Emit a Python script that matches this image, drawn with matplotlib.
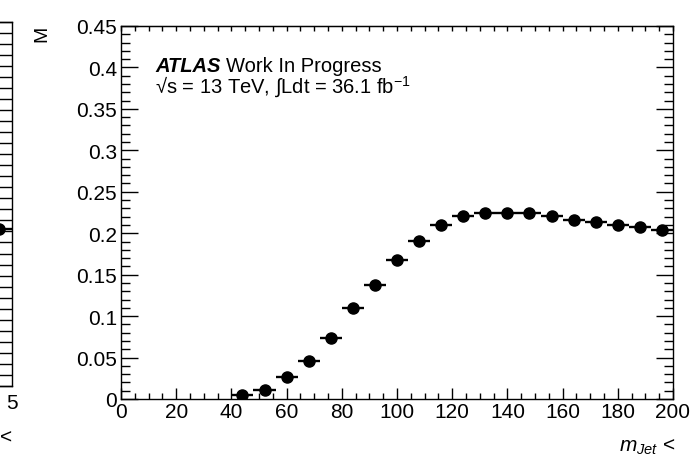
import matplotlib
matplotlib.use('Agg')
import matplotlib.pyplot as plt
from matplotlib.ticker import MultipleLocator, FuncFormatter
import numpy as np

plt.rcParams['font.family'] = ['Liberation Sans', 'DejaVu Sans']
plt.rcParams['mathtext.fontset'] = 'custom'
plt.rcParams['mathtext.rm'] = 'Liberation Sans'
plt.rcParams['mathtext.it'] = 'Liberation Sans:italic'
plt.rcParams['mathtext.bf'] = 'Liberation Sans:bold'
plt.rcParams['mathtext.sf'] = 'Liberation Sans'

# ---- data ----
mjet_bin_centers = [44, 52, 60, 68, 76, 84, 92, 100, 108, 116,
                    124, 132, 140, 148, 156, 164, 172, 180, 188, 196]
mjet_bin_half_width = 4
efficiency = [0.005, 0.011, 0.026, 0.046, 0.074, 0.110, 0.138, 0.168, 0.191, 0.210,
              0.221, 0.225, 0.224, 0.224, 0.221, 0.216, 0.213, 0.210, 0.207, 0.204]

# neighbouring (cut-off) panel on the left
left_panel_x = [4.15]
left_panel_y = [0.142]
left_panel_xerr = 0.85

W, H = 692, 460
fig = plt.figure(figsize=(W / 100, H / 100), dpi=100)
fig.patch.set_facecolor('white')


def px(l, t, r, b):
    return [l / W, 1 - b / H, (r - l) / W, (b - t) / H]


FS = 15
TFS = 14.5

# ---------------- main panel ----------------
ax = fig.add_axes(px(121, 27, 673, 400))
ax.errorbar(mjet_bin_centers, efficiency, xerr=mjet_bin_half_width, fmt='o',
            color='black', ms=8, lw=1.7, capsize=0, zorder=3)
ax.set_xlim(0, 200)
ax.set_ylim(0, 0.45)
ax.xaxis.set_major_locator(MultipleLocator(20))
ax.xaxis.set_minor_locator(MultipleLocator(5))
ax.yaxis.set_major_locator(MultipleLocator(0.05))
ax.yaxis.set_minor_locator(MultipleLocator(0.01))
ax.yaxis.set_major_formatter(FuncFormatter(lambda v, p: ('%g' % round(v, 3))))
ax.xaxis.set_major_formatter(FuncFormatter(lambda v, p: ('%d' % round(v))))

ax.tick_params(axis='y', which='major', direction='in', length=12, width=1,
               left=True, right=True, labelsize=FS, pad=3)
ax.tick_params(axis='y', which='minor', direction='in', length=6.3, width=1,
               left=True, right=True)
ax.tick_params(axis='x', which='major', direction='in', length=7.6, width=1,
               bottom=True, top=False, labelsize=FS, pad=2)
ax.tick_params(axis='x', which='minor', direction='in', length=4, width=1,
               bottom=True, top=False)
for s in ax.spines.values():
    s.set_linewidth(1)
    s.set_color('black')

sec = ax.secondary_xaxis('top')
sec.xaxis.set_major_locator(MultipleLocator(5))
sec.tick_params(axis='x', which='major', direction='in', length=3.8, width=1,
                labeltop=False)
sec.xaxis.set_minor_locator(matplotlib.ticker.NullLocator())

# ATLAS label
t1 = fig.text(155 / W, 1 - 72 / H, 'ATLAS', fontsize=TFS, fontweight='bold',
              fontstyle='italic', va='baseline', ha='left')
fig.canvas.draw()
bb = t1.get_window_extent(renderer=fig.canvas.get_renderer())
fig.text((bb.x1 + 6) / W, 1 - 72 / H, 'Work In Progress', fontsize=TFS,
         va='baseline', ha='left')
fig.text(155 / W, 1 - 94 / H,
         '√s = 13 TeV, ∫Ldt = 36.1 fb$^{-1}$',
         fontsize=TFS, va='baseline', ha='left')

# x-axis title (cut off at the bottom of the image)
fig.text(675 / W, 1 - 452 / H, r'$m_{Jet}$ <', fontsize=FS,
         va='baseline', ha='right')
# y-axis title fragment (cut off at the top)
fig.text(42 / W, 1 - 34 / H, 'M', fontsize=14, rotation=90,
         va='center', ha='center')

# ---------------- cut-off left panel ----------------
axL = fig.add_axes(px(-60, 22.7, 11.5, 387))
axL.errorbar(left_panel_x, left_panel_y, xerr=left_panel_xerr, fmt='o',
             color='black', ms=8, lw=1.7, capsize=0)
axL.set_xlim(0, 5)
axL.set_ylim(0, 0.33)
axL.yaxis.set_major_locator(MultipleLocator(0.01))
axL.tick_params(axis='y', which='both', direction='in', left=False,
                right=True, labelleft=False, length=13, width=1)
axL.set_xticks([5])
axL.set_xticklabels(['5'])
axL.tick_params(axis='x', direction='in', length=0, labelsize=FS, pad=5)
for s in axL.spines.values():
    s.set_linewidth(1)
    s.set_color('black')
fig.text(6 / W, 1 - 438 / H, '<', fontsize=FS, va='center', ha='center')

fig.savefig('out.png', dpi=100, facecolor='white')
